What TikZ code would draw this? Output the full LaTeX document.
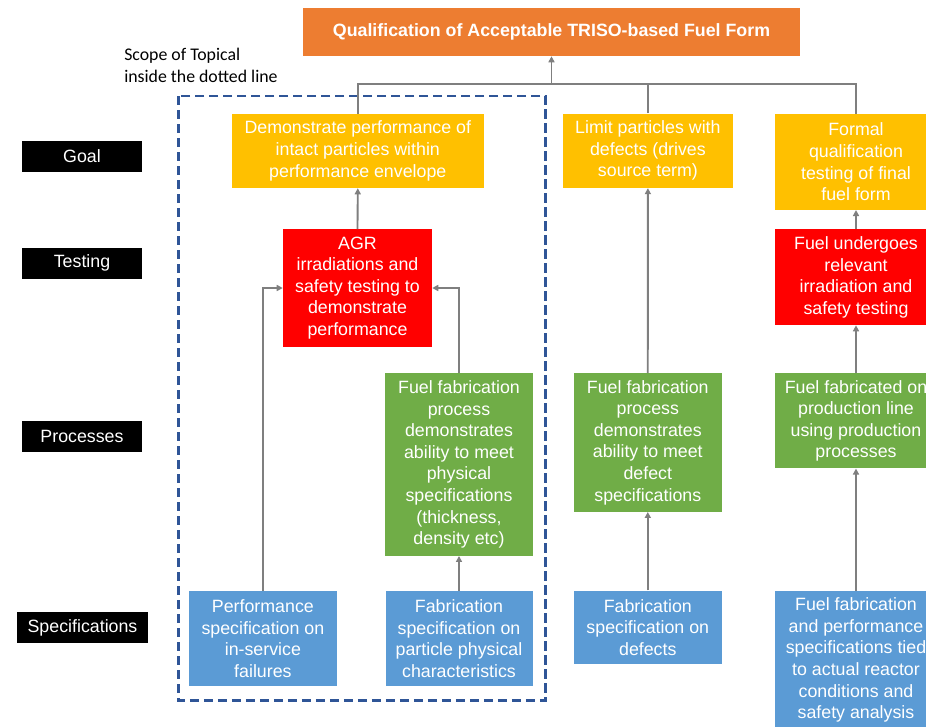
\documentclass[tikz,border=0pt]{standalone}
\usepackage{fontspec}
\setmainfont{Liberation Sans}
\newfontfamily\scopefont{Carlito}
\usetikzlibrary{arrows.meta}
\definecolor{cOrange}{HTML}{ED7D31}
\definecolor{cYellow}{HTML}{FFC000}
\definecolor{cRed}{HTML}{FF0000}
\definecolor{cGreen}{HTML}{70AD47}
\definecolor{cBlue}{HTML}{5B9BD5}
\definecolor{cDash}{HTML}{2F5597}
\definecolor{cGray}{HTML}{7F7F7F}
\tikzset{
  box/.style={inner sep=0pt, align=center, text=white,
    font=\fontsize{13.35pt}{16.2pt}\selectfont,
    execute at begin node={\rule{0pt}{14.8pt}}},
  goalbox/.style={box, fill=cYellow},
  testbox/.style={box, fill=cRed},
  procbox/.style={box, fill=cGreen},
  specbox/.style={box, fill=cBlue},
  lab/.style={fill=black, text=white, inner ysep=0pt, inner xsep=7.9pt,
    minimum width=90pt, minimum height=23.25pt,
    font=\fontsize{13.35pt}{16.1pt}\selectfont},
  wire/.style={draw=cGray, line width=1.4pt},
  arr/.style={wire, -{Triangle[length=4.5pt,width=4.5pt]}},
}
\begin{document}
\begin{tikzpicture}[x=0.75pt,y=-0.75pt]
\clip (0,0) rectangle (926,726);
\fill[white] (0,0) rectangle (926,726);

% title
\node[inner sep=0pt, text=white, fill=cOrange, minimum width=372.75pt, minimum height=36pt,
  font=\fontsize{13.35pt}{16.1pt}\selectfont\bfseries] (title) at (551.5,32)
  {Qualification of Acceptable TRISO-based Fuel Form};

% scope note
\node[anchor=west, align=left, inner sep=0pt,
  font=\scopefont\fontsize{13.35pt}{16pt}\selectfont] (scope) at (124,65.5)
  {Scope of Topical\\inside the dotted line};

% dashed scope frame
\draw[cDash, line width=2pt, dash pattern=on 7pt off 3.5pt]
  (178.6,96) rectangle (545.7,700.7);

% row labels
\node[lab] (lgoal) at (82,156) {Goal};
\node[lab] (ltest) at (82,263) {Testing};
\node[lab] (lproc) at (82,436.8) {Processes};
\node[lab] (lspec) at (82.5,627.8) {Specifications};

% goals
\node[goalbox, minimum width=188.7pt, minimum height=55.5pt] (goal1) at (357.8,151)
  {Demonstrate performance of\\intact particles within\\performance envelope};
\node[goalbox, minimum width=127.3pt, minimum height=55.8pt] (goal2) at (647.9,150.7)
  {Limit particles with\\defects (drives\\source term)};
\node[goalbox, minimum width=121pt, minimum height=71.8pt] (goal3) at (856,161.9)
  {Formal\\qualification\\testing of final\\fuel form};

% testing
\node[testbox, minimum width=111.75pt, minimum height=88pt] (test1) at (357.5,288)
  {AGR\\irradiations and\\safety testing to\\demonstrate\\performance};
\node[testbox, minimum width=121pt, minimum height=71.8pt] (test2) at (856,277.2)
  {Fuel undergoes\\relevant\\irradiation and\\safety testing};

% processes
\node[procbox, minimum width=111pt, minimum height=136.8pt] (proc1) at (459,464.5)
  {Fuel fabrication\\process\\demonstrates\\ability to meet\\physical\\specifications\\(thickness,\\density etc)};
\node[procbox, minimum width=110.8pt, minimum height=103.8pt] (proc2) at (647.8,442.5)
  {Fuel fabrication\\process\\demonstrates\\ability to meet\\defect\\specifications};
\node[procbox, minimum width=121pt, minimum height=71.25pt] (proc3) at (856,420.8)
  {Fuel fabricated on\\production line\\using production\\processes};

% specifications
\node[specbox, minimum width=110.85pt, minimum height=71.25pt] (spec1) at (262.9,638.5)
  {Performance\\specification on\\in-service\\failures};
\node[specbox, minimum width=110.25pt, minimum height=71.6pt] (spec2) at (459,638.7)
  {Fabrication\\specification on\\particle physical\\characteristics};
\node[specbox, minimum width=110.8pt, minimum height=55.2pt] (spec3) at (647.8,627.5)
  {Fabrication\\specification on\\defects};
\node[specbox, minimum width=121pt, minimum height=103.7pt] (spec4) at (856,660)
  {Fuel fabrication\\and performance\\specifications tied\\to actual reactor\\conditions and\\safety analysis};

% connectors
\coordinate (bus) at (551.5,84);
\draw[wire] (goal1.north) |- (bus) -| (goal3.north);
\draw[wire] (goal2.north) -- (goal2.north |- bus);
\draw[arr] (bus) -- (title.south);

\draw[arr] (test1.north) -- (goal1.south);
\draw[arr] (spec1.north) |- (test1.west);
\draw[arr] (proc1.north) |- (test1.east);
\draw[arr] (spec2.north) -- (proc1.south);

\draw[arr] (spec3.north) -- (proc2.south);
\draw[arr] (proc2.north) -- (goal2.south);

\draw[arr] (spec4.north) -- (proc3.south);
\draw[arr] (proc3.north) -- (test2.south);
\draw[arr] (test2.north) -- (goal3.south);
\end{tikzpicture}
\end{document}
